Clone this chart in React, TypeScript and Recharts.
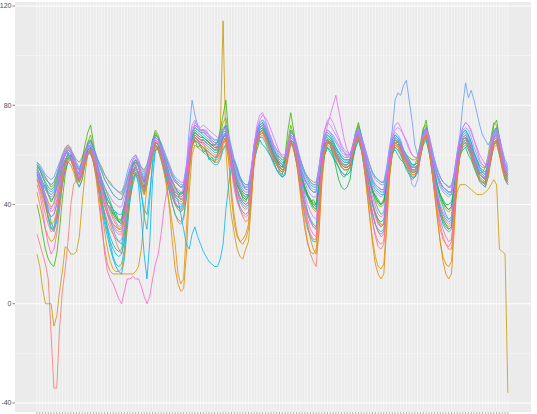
import React from 'react';
import { LineChart, Line, XAxis, YAxis, CartesianGrid, ReferenceLine } from 'recharts';

// hourly index over one week
const hours: number[] = Array.from({ length: 168 }, (_, i) => i);
const yTicks = [-40, 0, 40, 80, 120];
const yMinor = [-20, 20, 60, 100];

const s01 = [28,24,20,16,10,-12,-34,-34,-10,5, 14,25,40,48,50,49,52,57,60,61, 58,54,50,45,40,36,32,28,25,22, 20,26,35,44,50,53,51,47,44,48, 54,60,63,62,59,55,50,45,40,36, 33,32,34,42,54,63,66,65,63,62, 61,60,59,58,58,60,64,66,62,55, 48,42,38,35,33,34,44,56,64,67, 68,66,63,60,57,54,52,51,52,58, 64,63,58,50,40,32,25,20,17,15, 30,50,60,64,63,61,58,55,53,52, 52,53,58,64,67,63,56,48,40,33, 28,25,24,25,38,52,60,63,62,60, 57,55,53,51,51,53,59,65,67,62, 54,46,38,32,27,24,22,22,35,50, 60,64,65,63,60,56,53,50,49,48, 52,59,65,66,62,56,51,49];
const s02 = [45,40,35,30,27,25,26,30,38,48, 54,57,56,53,49,47,50,56,61,62, 57,50,40,30,22,16,13,12,12,12, 12,12,12,12,12,13,15,22,35,48, 58,64,66,64,60,55,48,38,25,14, 8,5,6,20,45,60,64,63,62,61, 60,59,58,57,57,59,63,64,58,45, 35,28,25,24,26,30,42,58,66,69, 70,68,65,62,59,57,55,54,55,61, 66,65,60,53,45,38,32,26,22,20, 28,48,60,65,65,63,60,58,56,55, 55,56,61,66,68,64,56,46,35,24, 16,12,10,12,30,50,61,64,63,61, 58,56,54,52,52,54,60,66,68,63, 55,45,35,25,17,12,10,12,30,50, 60,64,65,63,60,56,53,50,48,47, 51,58,63,64,60,54,50,48];
const s03 = [20,15,6,0,0,0,-9,-5,5,13, 23,22,20,20,21,27,40,52,60,63, 60,56,52,48,44,40,37,34,32,30, 30,34,42,50,54,55,53,49,46,50, 56,62,65,64,61,57,53,48,44,40, 38,37,38,45,56,64,66,65,64,63, 62,61,60,59,60,70,114,62,45,35, 28,22,19,18,22,25,40,58,66,69, 70,68,65,62,59,57,55,54,55,61, 66,65,61,55,50,46,43,40,38,37, 45,57,64,66,65,63,60,58,56,55, 55,56,61,66,68,65,58,52,46,41, 37,34,32,32,42,55,62,65,64,62, 59,57,55,53,53,55,61,67,69,64, 56,48,42,37,34,32,31,32,40,45, 48,48,48,47,46,45,44,44,44,45, 46,48,50,48,22,21,20,-36];
const s04 = [52,50,47,44,41,39,40,44,50,55, 58,60,59,56,52,50,53,58,62,63, 59,54,48,43,39,36,34,32,31,30, 31,36,44,50,54,55,53,49,47,50, 56,62,65,64,61,57,53,49,46,43, 42,41,42,48,58,66,68,67,66,66, 65,64,63,62,62,64,67,68,63,57, 52,48,45,43,42,43,50,60,66,69, 70,68,65,62,59,57,55,54,55,61, 66,65,61,56,51,47,44,42,40,40, 48,58,64,66,65,63,60,58,56,55, 55,56,61,66,68,65,59,54,49,45, 42,40,39,40,47,57,63,65,64,62, 59,57,55,53,53,55,61,66,68,64, 58,52,47,43,40,38,37,38,46,56, 63,66,67,65,62,58,55,52,51,50, 54,61,67,68,63,57,52,50];
const s05 = [40,35,28,22,18,16,15,20,30,42, 52,58,60,58,55,54,58,64,69,72, 65,58,52,47,43,40,38,36,34,33, 33,38,45,51,55,57,55,51,49,53, 60,66,69,67,63,59,54,50,47,45, 44,43,44,50,60,67,69,68,67,67, 66,65,64,64,65,70,76,82,68,58, 52,48,45,43,42,43,51,61,68,71, 72,70,67,63,60,58,56,55,60,70, 77,70,63,56,50,46,43,41,39,38, 46,58,65,67,66,64,61,59,57,56, 56,57,63,69,73,68,60,53,46,40, 36,33,31,32,44,57,64,66,65,63, 60,58,56,54,54,56,63,70,74,67, 58,50,43,38,34,32,30,31,44,56, 63,66,67,65,62,58,55,52,51,51, 56,64,72,74,67,59,53,51];
const s06 = [56,54,51,49,47,46,47,50,54,58, 60,62,61,58,54,52,55,60,64,66, 62,58,54,50,47,44,41,38,35,33, 32,37,45,52,56,58,56,52,50,53, 59,65,68,67,64,60,56,52,49,47, 45,44,45,51,61,68,70,69,68,67, 66,65,64,63,63,66,70,72,66,59, 54,50,47,45,44,44,51,61,67,70, 71,69,66,63,60,58,56,55,56,63, 70,68,63,57,51,47,44,42,40,39, 47,58,64,66,64,60,55,50,47,46, 47,50,58,65,69,66,60,55,50,46, 43,41,40,41,48,58,64,66,65,63, 60,58,56,54,54,56,62,68,70,66, 59,53,48,44,41,39,38,39,47,56, 63,67,68,66,63,59,56,53,52,51, 55,62,68,70,65,59,54,52];
const s07 = [57,55,53,51,49,48,49,52,56,59, 61,63,62,59,56,54,56,61,65,66, 63,60,56,53,50,48,46,44,43,42, 42,45,50,54,57,58,56,53,51,54, 59,65,68,67,64,61,58,54,51,49, 48,47,47,53,62,69,71,70,69,69, 68,67,66,65,65,67,70,71,67,62, 57,53,50,48,47,47,54,63,69,72, 73,71,68,65,62,60,58,57,57,63, 69,68,64,59,55,52,50,48,47,47, 54,62,67,69,68,66,63,61,59,58, 58,58,63,68,71,68,63,58,54,50, 48,47,46,46,52,60,66,68,67,65, 62,60,58,56,56,57,63,69,71,67, 61,56,52,49,47,46,45,45,51,59, 66,69,70,68,65,61,58,55,54,53, 57,64,70,71,67,61,56,54];
const s08 = [54,51,46,40,34,30,31,36,44,52, 57,59,58,55,51,49,52,57,61,62, 58,53,47,41,36,31,27,24,22,21, 22,28,38,47,52,54,52,48,45,49, 55,61,64,63,60,56,51,45,40,36, 34,33,35,43,55,64,67,66,65,65, 64,63,62,61,61,63,67,69,63,55, 48,43,39,37,36,37,46,58,65,68, 69,67,64,61,58,56,54,53,54,60, 66,64,58,50,42,35,30,27,25,25, 38,54,62,65,64,62,59,57,55,54, 54,55,60,65,67,63,56,49,42,36, 32,30,29,30,42,55,62,65,64,62, 59,57,55,53,53,55,61,67,69,64, 56,48,41,36,33,31,30,31,42,53, 61,65,66,64,61,57,54,51,50,49, 53,60,66,67,62,56,51,49];
const s09 = [55,52,48,43,38,33,30,34,42,50, 56,59,60,57,53,50,53,58,62,63, 59,54,48,42,36,30,24,19,16,15, 16,22,34,45,52,55,53,45,35,30, 42,58,65,64,61,57,53,49,46,44, 43,42,43,49,59,67,69,68,67,67, 66,65,64,63,63,65,68,69,64,58, 53,49,46,44,43,44,51,61,67,70, 71,69,66,63,60,57,53,51,52,60, 66,65,61,56,51,47,44,41,39,38, 46,57,63,66,65,63,61,59,58,57, 57,58,62,67,69,66,60,54,49,45, 41,38,36,37,45,57,64,67,66,64, 61,59,57,55,55,56,62,68,70,66, 59,53,47,42,39,36,34,35,45,55, 62,66,67,65,62,58,55,52,51,50, 54,61,67,68,64,58,53,51];
const s10 = [53,51,49,47,45,44,45,48,52,56, 58,60,59,56,52,50,53,58,62,63, 59,55,50,46,42,38,34,30,27,25, 24,30,40,48,53,55,53,49,46,49, 55,61,64,63,60,56,52,48,45,43, 42,36,30,24,22,28,31,27,24,21, 19,17,16,15,15,18,24,38,48,56, 58,55,51,48,46,46,53,63,69,72, 73,71,68,65,62,59,57,56,56,62, 68,67,63,58,53,50,48,46,45,45, 52,60,66,68,67,65,63,61,59,58, 58,58,62,67,70,67,62,57,53,49, 47,46,45,45,51,60,66,68,67,65, 62,60,58,56,56,57,63,69,71,67, 61,56,52,49,47,46,45,45,51,59, 66,69,70,68,65,61,58,55,53,52, 56,63,69,71,66,60,55,53];
const s11 = [52,49,45,41,37,35,36,40,47,54, 58,60,59,56,52,50,53,58,62,63, 58,52,45,38,32,27,22,18,15,13, 12,18,30,42,50,53,48,35,20,10, 25,50,62,63,60,56,52,48,44,41, 39,38,40,47,58,66,68,67,66,66, 65,64,63,62,62,64,67,68,63,56, 50,45,42,40,39,40,48,60,66,69, 70,68,65,62,59,57,55,54,55,61, 67,66,61,55,48,42,37,34,32,31, 42,56,63,66,65,63,60,58,56,55, 55,56,61,66,69,65,58,51,45,40, 36,34,33,34,44,56,63,66,65,63, 60,58,56,54,54,56,62,68,70,65, 57,50,44,39,36,34,33,34,44,55, 62,66,67,65,62,58,55,52,51,50, 54,61,67,69,64,58,53,51];
const s12 = [57,56,54,52,51,50,51,54,57,60, 62,63,62,60,57,55,57,61,64,65, 63,60,57,54,52,50,48,47,46,45, 45,48,53,57,59,60,58,55,53,56, 61,66,68,67,65,62,59,56,53,51, 50,49,49,56,70,82,76,72,70,70, 69,68,67,66,66,68,71,72,68,63, 58,54,51,49,48,48,55,64,70,73, 74,72,69,66,63,61,59,58,58,64, 69,68,65,60,56,53,51,49,48,48, 55,63,68,70,69,67,65,63,61,60, 60,60,64,69,71,68,64,60,56,53, 51,50,49,49,55,63,70,82,85,84, 88,90,82,74,64,60,64,69,71,68, 63,58,54,51,49,48,47,47,53,61, 68,80,89,83,86,82,77,72,68,66, 64,66,70,71,67,62,57,55];
const s13 = [56,55,53,51,49,48,49,52,56,59, 61,62,61,59,56,54,56,60,63,64, 62,59,56,53,50,48,46,44,43,42, 42,46,51,55,58,59,57,54,52,55, 60,65,67,66,64,61,58,55,52,50, 49,48,48,55,64,71,72,71,70,70, 69,68,67,66,66,67,69,70,67,62, 57,53,50,48,47,47,54,64,70,73, 74,73,70,67,64,62,60,59,59,64, 68,67,64,60,56,53,51,49,48,48, 55,63,68,70,69,68,66,64,62,61, 60,60,64,68,70,68,64,60,56,52, 50,49,48,48,54,62,67,69,68,66, 62,58,53,48,47,50,60,67,70,68, 63,58,54,51,49,48,47,47,53,61, 67,70,71,70,67,63,60,57,56,55, 58,64,69,70,67,62,58,56];
const s14 = [54,52,49,46,44,43,44,48,53,58, 61,63,62,59,55,53,56,61,64,65, 62,58,54,50,47,45,43,41,40,39, 39,43,49,54,57,58,56,52,50,53, 59,64,66,65,63,60,57,54,51,49, 48,47,47,53,62,69,73,72,71,72, 71,70,69,68,67,68,70,71,67,61, 56,52,49,47,46,46,53,63,70,74, 76,75,73,70,67,64,61,59,59,64, 69,68,64,59,54,51,49,47,46,46, 54,64,70,74,75,73,70,67,64,62, 61,60,63,68,70,67,63,58,53,50, 48,47,46,46,52,61,67,70,71,70, 68,66,63,60,59,59,63,68,70,67, 61,56,52,49,47,46,45,45,51,60, 67,71,73,72,70,66,62,58,56,55, 58,64,69,70,66,60,56,54];
const s15 = [53,50,46,42,39,37,38,42,49,56, 60,62,61,58,54,52,55,60,63,64, 60,56,51,46,42,38,35,32,30,29, 29,34,43,50,55,57,55,51,48,51, 57,63,66,65,62,58,54,50,46,44, 43,42,43,50,61,69,72,71,70,70, 68,67,65,64,63,65,68,69,64,57, 51,46,43,41,40,41,49,60,67,71, 72,71,68,65,62,59,57,56,56,62, 67,66,61,55,49,44,40,37,35,34, 44,57,66,72,76,80,84,78,72,66, 62,60,63,68,70,66,60,54,48,43, 39,36,35,36,45,57,64,67,66,64, 61,59,57,55,55,56,62,68,70,66, 58,51,45,40,37,35,34,35,45,56, 63,67,68,66,63,59,56,53,52,51, 55,62,67,69,65,59,54,52];
const s16 = [48,44,38,30,24,20,22,28,38,48, 55,59,59,56,52,50,53,58,61,62, 58,52,44,32,20,13,10,8,5,2, 0,5,10,10,11,10,10,7,3,0, 3,10,16,20,28,38,45,50,50,47, 44,42,42,48,58,65,67,66,65,65, 62,61,60,59,59,61,65,66,61,53, 46,41,38,36,35,36,45,57,65,68, 69,67,64,61,58,56,54,53,54,60, 65,64,59,52,45,39,34,30,28,27, 38,53,62,66,65,63,61,59,57,56, 56,57,62,66,68,64,57,50,43,37, 32,29,27,28,40,55,62,65,64,62, 59,57,55,53,53,55,61,66,68,63, 55,47,40,34,30,27,25,26,38,52, 60,64,65,63,60,56,53,50,49,48, 52,59,64,65,61,55,51,49];
const s17 = [50,46,41,36,32,29,30,35,43,51, 56,58,58,55,51,49,52,57,60,61, 57,52,46,41,37,33,30,28,26,25, 26,31,40,48,53,55,53,49,46,50, 56,62,64,63,60,56,52,47,43,40, 38,37,39,46,57,65,67,66,65,64, 63,62,61,60,60,62,65,67,62,55, 49,44,41,39,38,39,47,58,65,68, 69,67,64,61,58,56,54,53,54,60, 65,64,58,50,42,36,31,28,26,26, 38,54,62,65,64,62,59,57,55,54, 54,55,60,65,67,63,56,48,40,33, 27,23,22,24,38,54,62,65,64,62, 59,57,55,53,53,55,61,66,68,63, 54,45,37,30,26,24,23,25,38,52, 60,64,65,63,60,56,53,50,49,48, 52,59,65,66,62,56,51,49];
const s18 = [50,47,43,39,35,32,33,37,44,51, 56,59,58,55,51,49,52,57,61,62, 58,52,45,37,29,22,17,14,13,13, 14,20,32,43,50,53,51,47,44,48, 54,60,63,62,58,53,47,40,32,24, 12,8,10,30,52,63,66,65,64,63, 62,61,60,59,59,61,65,67,58,42, 32,27,25,26,28,32,44,57,65,68, 69,67,64,61,58,56,54,53,54,60, 65,63,57,48,38,30,24,21,20,22, 35,52,61,65,64,62,59,57,55,54, 54,55,60,65,67,63,55,45,35,26, 19,15,14,16,32,52,61,64,63,61, 58,56,54,52,52,54,60,66,68,63, 54,44,34,25,19,16,15,17,33,51, 60,64,65,63,60,56,53,50,49,48, 52,59,64,65,61,55,51,49];
const s19 = [54,52,49,46,44,42,43,47,52,57, 60,62,61,58,54,52,55,60,65,68, 63,58,53,49,45,42,40,37,35,34, 34,39,46,52,56,58,56,52,49,53, 60,66,70,68,64,60,55,51,48,46, 45,44,45,51,60,67,69,68,67,67, 66,65,64,64,65,68,73,75,67,59, 53,49,46,44,43,44,51,61,67,70, 71,69,66,63,60,58,56,55,58,66, 72,68,62,56,51,47,44,42,41,40, 48,58,64,66,65,63,60,58,56,56, 56,58,64,69,72,68,61,55,50,46, 43,41,40,41,48,58,64,66,65,63, 60,58,56,55,56,59,65,71,72,66, 59,53,48,44,41,39,38,39,47,56, 63,66,67,65,62,58,55,53,53,55, 60,67,73,72,66,59,54,52];
const s20 = [56,54,51,48,46,45,46,49,53,57, 60,61,60,57,53,51,54,59,63,64, 61,57,53,49,45,42,40,38,37,36, 36,40,47,53,56,57,55,51,49,52, 58,64,67,66,63,60,56,52,49,47, 46,45,45,51,61,69,71,70,69,68, 67,66,65,64,64,66,69,70,66,60, 55,51,48,46,45,45,52,62,68,71, 72,70,67,64,61,59,57,56,56,62, 68,67,63,58,53,50,48,46,45,45, 52,61,66,68,67,65,62,60,58,57, 57,57,62,67,70,67,62,57,52,48, 46,45,44,44,50,59,65,67,66,64, 61,59,57,55,55,56,62,68,70,66, 60,55,51,48,46,45,44,44,50,58, 65,68,69,67,64,60,57,54,53,52, 56,63,69,70,66,60,55,53];
const s21 = [51,48,44,40,37,35,36,40,47,54, 58,60,59,56,52,50,53,58,61,62, 59,54,49,44,40,36,33,31,29,28, 28,33,41,48,53,55,53,49,46,49, 55,61,64,63,60,56,52,48,45,42, 41,40,41,47,57,65,68,67,66,66, 65,64,63,62,62,63,66,67,63,57, 51,46,43,41,40,41,48,59,66,69, 70,68,65,62,59,57,55,54,55,61, 66,65,60,53,46,40,36,33,31,30, 40,55,63,66,65,63,60,58,56,55, 55,56,61,66,68,64,58,51,45,40, 35,32,31,32,42,55,63,66,65,63, 60,58,56,54,54,56,62,67,69,64, 56,49,43,38,35,33,32,33,43,54, 62,66,67,65,62,58,55,52,51,50, 54,61,66,68,64,58,53,51];
const s22 = [50,49,47,48,44,41,43,47,50,55, 57,61,58,55,52,53,57,61,62,60, 58,55,50,47,45,40,39,36,37,33, 34,40,44,51,53,56,52,50,47,53, 57,61,64,62,60,58,55,49,47,44, 43,45,44,52,57,64,66,63,64,61, 62,58,59,57,60,63,67,66,61,56, 52,47,46,42,41,44,50,58,62,66, 64,63,61,59,57,54,53,52,58,64, 66,62,57,52,49,45,43,41,42,40, 48,55,60,63,61,59,57,55,52,51, 53,55,59,63,66,62,58,53,49,45, 44,42,40,42,49,55,61,62,60,58, 57,54,52,50,51,54,60,64,66,61, 56,50,47,44,42,40,40,41,48,55, 60,62,63,60,58,55,52,50,49,49, 53,58,64,66,60,56,52,50];
const s23 = [55,54,52,50,49,47,48,51,55,60, 63,64,62,60,58,57,59,62,64,63, 61,59,57,55,52,50,49,47,46,45, 44,47,50,54,56,57,57,55,54,56, 60,63,65,64,62,60,58,55,52,50, 48,47,48,54,62,66,67,66,65,66, 65,64,63,62,63,65,67,68,65,61, 57,54,51,49,48,48,53,60,66,68, 69,68,66,64,62,60,59,58,59,63, 66,65,62,59,56,53,51,50,49,49, 54,60,64,66,66,64,62,61,60,59, 59,60,63,66,68,66,62,59,56,53, 51,50,49,49,53,59,63,65,65,63, 61,60,59,58,58,59,62,66,68,65, 61,57,54,51,49,48,47,48,52,58, 63,65,66,65,63,60,58,56,55,55, 57,61,65,66,63,59,56,55];
const s24 = [54,51,47,44,40,38,41,46,53,59, 62,64,63,58,53,51,55,61,63,62, 60,57,52,47,43,40,38,35,33,31, 32,38,46,53,58,60,57,52,50,54, 60,65,67,66,62,58,55,51,47,45, 44,44,47,55,66,72,74,71,69,70, 70,68,66,65,64,66,68,69,64,58, 53,49,46,44,43,44,53,64,72,76, 77,74,70,67,64,62,61,60,60,64, 67,66,62,57,52,49,46,44,43,43, 51,62,70,73,72,70,68,66,63,61, 59,59,63,67,69,66,61,56,51,47, 45,44,43,44,51,61,68,72,73,71, 68,65,62,60,59,59,63,67,69,66, 60,55,50,47,45,44,43,44,51,60, 67,71,73,72,69,66,63,60,58,56, 58,63,68,70,66,60,55,53];
const s25 = [53,50,46,41,35,31,29,33,40,48, 54,57,58,55,50,47,50,56,60,61, 57,52,46,40,34,29,25,22,20,19, 20,25,33,42,48,52,50,44,38,36, 45,56,62,62,58,54,50,46,43,40, 39,39,41,48,58,65,67,66,64,63, 61,59,57,56,56,58,62,64,61,55, 50,46,43,41,40,41,48,58,64,67, 67,65,62,59,56,54,52,51,53,60, 65,63,57,51,45,40,36,33,31,30, 40,53,60,63,62,60,57,55,53,52, 52,53,58,63,66,62,55,48,42,36, 32,29,28,29,40,53,60,63,62,60, 57,55,53,51,51,53,59,65,67,62, 54,47,41,36,32,30,29,30,41,52, 59,63,64,62,59,55,52,49,48,47, 51,58,64,65,61,55,50,48];

const seriesData = [s01, s02, s03, s04, s23, s19, s05, s06, s22, s07, s08, s09, s25, s10, s11, s20, s12, s13, s14, s24, s15, s16, s21, s17, s18];
const seriesNames = ['s01','s02','s03','s04','s23','s19','s05','s06','s22','s07','s08','s09','s25','s10','s11','s20','s12','s13','s14','s24','s15','s16','s21','s17','s18'];
const seriesColors = ['#F8766D','#E58700','#C99800','#A3A500','#8CAB00','#7CAE00','#39B600','#00BA38','#00BD5C','#00C08B','#00C1A3','#00BFC4','#00B8E7','#00B6EB','#00A9FF','#35A2FF','#619CFF','#9590FF','#C77CFF','#DB72FB','#E76BF3','#FF61C3','#FF67A4','#FD6F86','#D89000'];

const rows = hours.map((h, i) => {
  const r: Record<string, number> = { hour: h };
  seriesData.forEach((arr, k) => { r[seriesNames[k]] = arr[i]; });
  return r;
});

const EmptyTick = () => <g />;

export default function App() {
  return (
    <div style={{ position: 'absolute', left: 0, top: 0, width: 537, height: 414, background: '#ffffff' }}>
      <LineChart width={537} height={414} data={rows} margin={{ top: 2, right: 6, bottom: 0, left: 0 }}>
        <CartesianGrid fill="#EBEBEB" stroke="#ffffff" horizontal={false} vertical={false} />
        {hours.map((h) => (
          <ReferenceLine key={'v' + h} x={h} stroke="#F9F9F9" strokeWidth={0.7} />
        ))}
        {yMinor.map((v) => (
          <ReferenceLine key={'mi' + v} y={v} stroke="#F7F7F7" strokeWidth={0.6} />
        ))}
        {yTicks.map((v) => (
          <ReferenceLine key={'ma' + v} y={v} stroke="#ffffff" strokeWidth={1.1} />
        ))}
        <XAxis
          dataKey="hour"
          type="number"
          domain={[-7.8, 175.2]}
          ticks={hours}
          interval={0}
          tick={EmptyTick}
          axisLine={false}
          tickLine={{ stroke: '#555555', strokeWidth: 0.5 }}
          tickSize={2}
          height={2}
          allowDataOverflow
        />
        <YAxis
          type="number"
          domain={[-43.63, 121.6]}
          ticks={yTicks}
          interval={0}
          width={15}
          axisLine={false}
          tickLine={{ stroke: '#333333', strokeWidth: 0.6 }}
          tickSize={2.5}
          tickMargin={1}
          tick={{ fontSize: 7, fill: '#4D4D4D', fontFamily: 'Liberation Sans, Arial, sans-serif' }}
          allowDataOverflow
        />
        {seriesNames.map((k, idx) => (
          <Line
            key={k}
            dataKey={k}
            type="linear"
            stroke={seriesColors[idx]}
            strokeWidth={0.8}
            dot={false}
            activeDot={false}
            isAnimationActive={false}
          />
        ))}
      </LineChart>
    </div>
  );
}
